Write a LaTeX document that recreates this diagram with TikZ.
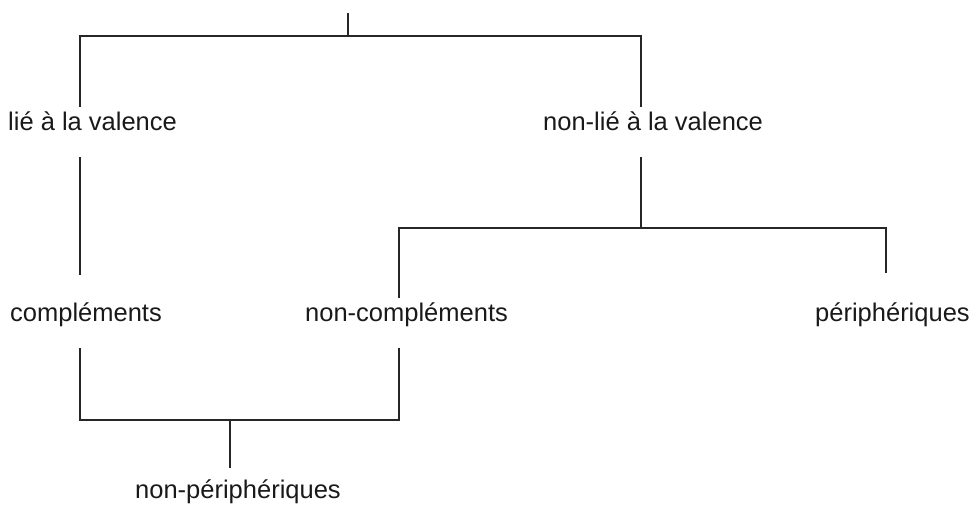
\documentclass[tikz,border=0pt]{standalone}
\usepackage{fontspec}
\setmainfont{Liberation Sans}
\begin{document}
\begin{tikzpicture}[x=1pt,y=-1pt,
  lbl/.style={anchor=base west,inner sep=0pt,font=\fontsize{25.5}{30}\selectfont,text=black!90},
  ln/.style={line width=1.3pt,black!85}]
\useasboundingbox (0,0) rectangle (973,521);
% labels
\node[lbl] (lie) at (8,131) {lié à la valence};
\node[lbl] (nonlie) at (543,131) {non-lié à la valence};
\node[lbl] (compl) at (10,321) {compléments};
\node[lbl] (noncompl) at (305,321) {non-compléments};
\node[lbl] (periph) at (815,321) {périphériques};
\node[lbl] (nonperiph) at (135,498) {non-périphériques};
% coordinates
\coordinate (root) at (348,13);
\coordinate (rj) at (348,36);
\coordinate (a1) at (80,36);
\coordinate (a2) at (80,107);
\coordinate (b1) at (641,36);
\coordinate (b2) at (641,107);
\coordinate (c1) at (80,157);
\coordinate (c2) at (80,275);
\coordinate (d1) at (641,157);
\coordinate (d2) at (641,228);
\coordinate (e1) at (399,228);
\coordinate (e2) at (399,298);
\coordinate (f1) at (886,228);
\coordinate (f2) at (886,273);
\coordinate (g1) at (80,348);
\coordinate (g2) at (80,420);
\coordinate (h1) at (399,348);
\coordinate (h2) at (399,420);
\coordinate (k1) at (230,420);
\coordinate (k2) at (230,468);
% connectors
\draw[ln] (root) -- (rj);
\draw[ln] (a2) -- (a1) -- (b1) -- (b2);
\draw[ln] (c1) -- (c2);
\draw[ln] (d1) -- (d2);
\draw[ln] (e2) -- (e1) -- (f1) -- (f2);
\draw[ln] (g1) -- (g2) -- (h2) -- (h1);
\draw[ln] (k1) -- (k2);
\end{tikzpicture}
\end{document}
